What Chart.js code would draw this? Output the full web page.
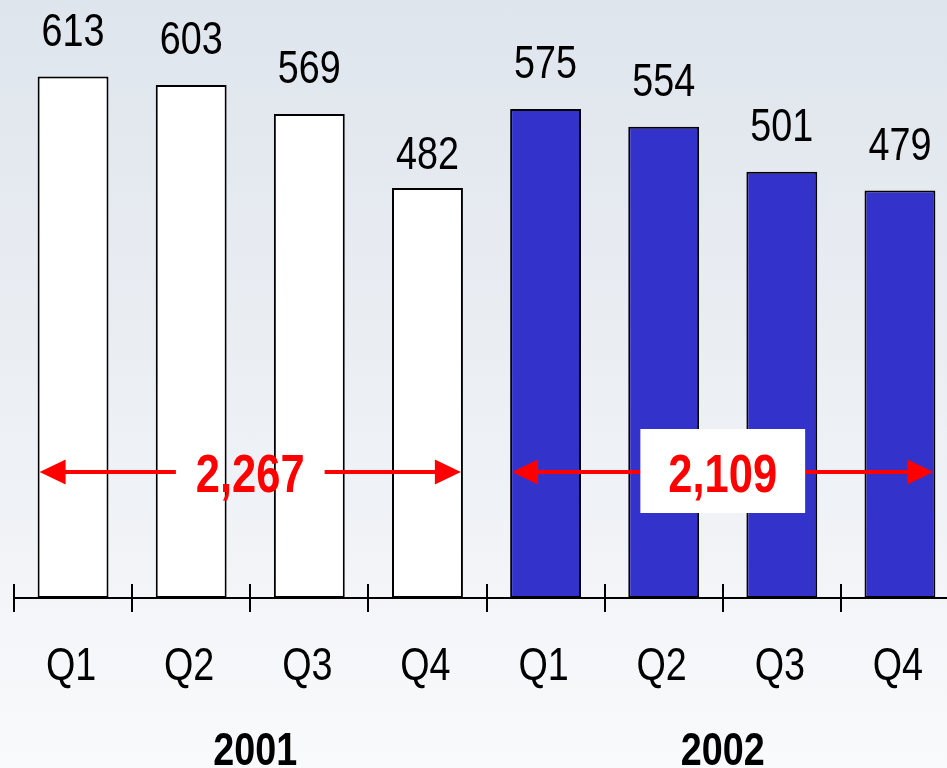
<!DOCTYPE html>
<html>
<head>
<meta charset="utf-8">
<script src="https://cdn.jsdelivr.net/npm/chart.js@4"></script>
<style>
  html, body { margin: 0; padding: 0; overflow: hidden; }
  body { width: 947px; height: 768px; background: linear-gradient(#dfe5ed, #eef1f5 60%, #f9fafc); }
  #wrap { position: relative; width: 960px; height: 768px; }
</style>
</head>
<body>
<div id="wrap"><canvas id="chartSales"></canvas></div>
<script>
const quarters = ['Q1', 'Q2', 'Q3', 'Q4', 'Q1', 'Q2', 'Q3', 'Q4'];
const years = ['2001', '2002'];
const values2001 = [613, 603, 569, 482];
const values2002 = [575, 554, 501, 479];
const totals = ['2,267', '2,109'];

const face = '"Liberation Sans", Arial, sans-serif';
const squeeze = 0.82;           // fake Arial Narrow by compressing horizontally
const labelNudge = { 3: 12 };   // the 482 label sits lower in the original

const barColors = values2001.map(() => '#ffffff').concat(values2002.map(() => '#3333cc'));

function narrowText(ctx, text, x, y, font) {
  ctx.save();
  ctx.font = font;
  ctx.translate(x, y);
  ctx.scale(squeeze, 1);
  ctx.fillText(text, 0, 0);
  ctx.restore();
}

const decor = {
  id: 'decor',
  afterDatasetsDraw(chart) {
    const ctx = chart.ctx;
    const xs = chart.scales.x;
    const area = chart.chartArea;
    const bars = chart.getDatasetMeta(0).data;
    const vals = values2001.concat(values2002);

    ctx.save();
    ctx.fillStyle = '#000';
    ctx.textAlign = 'center';
    ctx.textBaseline = 'alphabetic';
    // value labels
    bars.forEach((b, i) => {
      narrowText(ctx, String(vals[i]), b.x, b.y - 31 + (labelNudge[i] || 0), '46px ' + face);
    });

    // axis line + tick marks
    ctx.strokeStyle = '#000';
    ctx.lineWidth = 2;
    ctx.beginPath();
    ctx.moveTo(xs.getPixelForValue(-0.5), area.bottom);
    ctx.lineTo(chart.width, area.bottom);
    ctx.stroke();
    for (let i = 0; i <= quarters.length; i++) {
      const x = Math.round(xs.getPixelForValue(i - 0.5));
      ctx.beginPath();
      ctx.moveTo(x, area.bottom - 14);
      ctx.lineTo(x, area.bottom + 14);
      ctx.stroke();
    }

    // quarter labels
    quarters.forEach((q, i) => {
      narrowText(ctx, q, xs.getPixelForValue(i) - 2, area.bottom + 82, '46px ' + face);
    });

    // year labels
    years.forEach((y, g) => {
      const cx = (bars[g * 4 + 1].x + bars[g * 4 + 2].x) / 2;
      narrowText(ctx, y, cx + (g === 0 ? 5 : 0), area.bottom + 167, 'bold 46px ' + face);
    });

    // total arrows
    const ay = 472;
    const tfont = 'bold 53px ' + face;
    years.forEach((y, g) => {
      const first = bars[g * 4], last = bars[g * 4 + 3];
      const x1 = first.x - first.width / 2 + 2;
      const x2 = last.x + last.width / 2 - 2;
      const cx = (bars[g * 4 + 1].x + bars[g * 4 + 2].x) / 2;
      ctx.font = tfont;
      const tw = ctx.measureText(totals[g]).width * squeeze;
      const head = 26, hh = 12.5;
      ctx.strokeStyle = '#ff0000';
      ctx.fillStyle = '#ff0000';
      ctx.lineWidth = 4;
      ctx.beginPath();
      ctx.moveTo(x1 + head - 1, ay);
      ctx.lineTo(cx - tw / 2 - 20, ay);
      ctx.moveTo(cx + tw / 2 + 20, ay);
      ctx.lineTo(x2 - head + 1, ay);
      ctx.stroke();
      ctx.beginPath();
      ctx.moveTo(x1, ay);
      ctx.lineTo(x1 + head, ay - hh);
      ctx.lineTo(x1 + head, ay + hh);
      ctx.closePath();
      ctx.fill();
      ctx.beginPath();
      ctx.moveTo(x2, ay);
      ctx.lineTo(x2 - head, ay - hh);
      ctx.lineTo(x2 - head, ay + hh);
      ctx.closePath();
      ctx.fill();
      if (g === 1) {
        ctx.fillStyle = '#ffffff';
        ctx.fillRect(cx - tw / 2 - 28, ay - 43, tw + 56, 84);
      }
      ctx.fillStyle = '#ff0000';
      ctx.textBaseline = 'alphabetic';
      narrowText(ctx, totals[g], cx, ay + 20, tfont);
    });
    ctx.restore();
  }
};

const ctxSales = document.getElementById('chartSales').getContext('2d');
const chartSales = new Chart(ctxSales, {
  type: 'bar',
  data: {
    labels: quarters,
    datasets: [{
      label: '',
      data: values2001.concat(values2002),
      backgroundColor: barColors,
      borderColor: '#000000',
      borderWidth: 2,
      borderSkipped: false,
      categoryPercentage: 1,
      barPercentage: 0.6
    }]
  },
  options: {
    responsive: true,
    maintainAspectRatio: false,
    animation: false,
    layout: { padding: { left: 14, right: 1, top: 0, bottom: 170 } },
    plugins: {
      legend: { display: false },
      tooltip: { enabled: false }
    },
    scales: {
      x: { display: false },
      y: { display: false, min: 0, max: 703 }
    }
  },
  plugins: [decor]
});
</script>
</body>
</html>
